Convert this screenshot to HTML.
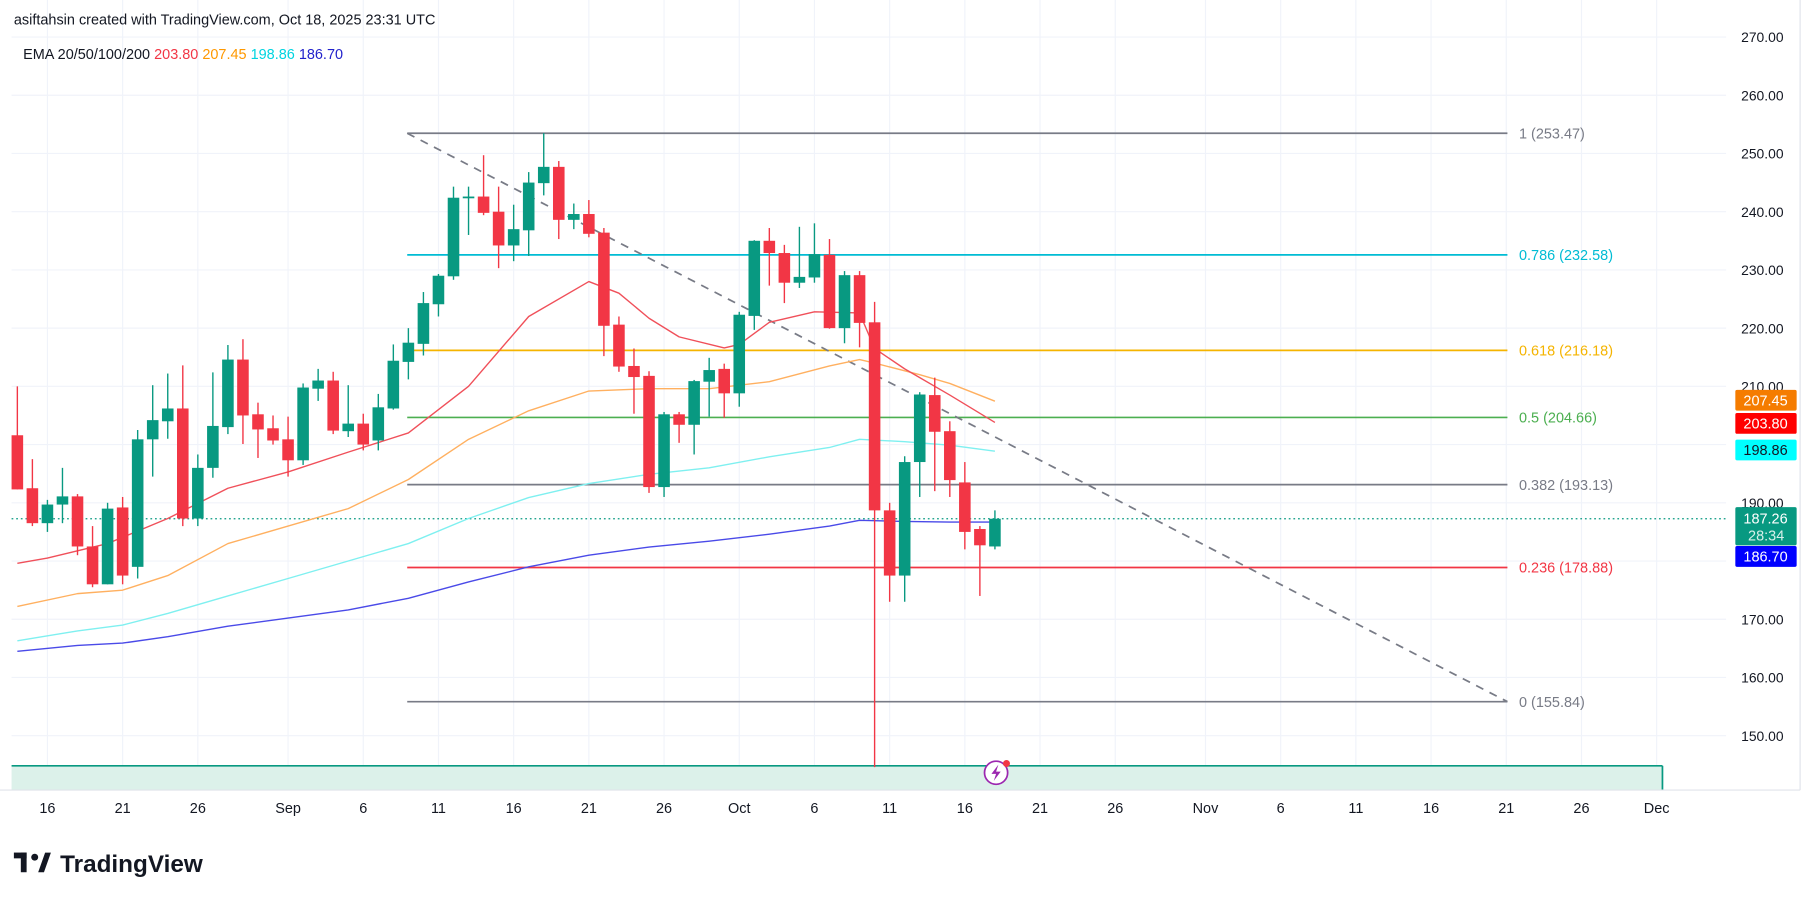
<!DOCTYPE html>
<html><head><meta charset="utf-8">
<style>
html,body{margin:0;padding:0;background:#fff;width:1814px;height:900px;overflow:hidden;}
svg{display:block;font-family:"Liberation Sans",sans-serif;}
</style></head>
<body>
<svg id="chart" width="1814" height="900" viewBox="0 0 1568 778" preserveAspectRatio="none" xmlns="http://www.w3.org/2000/svg">
<rect x="0" y="0" width="1568" height="778" fill="#ffffff"/>
<g id="grid"></g>
<g id="fib"></g>
<g id="emas"></g>
<g id="candles"></g>
<g id="yaxis"></g>
<g id="xaxis"></g>
<text x="12" y="21" font-size="12.5" fill="#131722">asiftahsin created with TradingView.com, Oct 18, 2025 23:31 UTC</text>
<g>
<text x="20" y="51" font-size="12.5" fill="#131722">EMA 20/50/100/200 <tspan fill="#f23645">203.80</tspan> <tspan fill="#ff9800">207.45</tspan> <tspan fill="#00d4e0">198.86</tspan> <tspan fill="#2222cc">186.70</tspan></text>
</g>
<g>
<rect x="12" y="737" width="11" height="5" fill="#131722"/>
<rect x="18" y="737" width="5" height="17" fill="#131722"/>
<circle cx="30" cy="741" r="3" fill="#131722"/>
<polygon points="33,754 39,737 44,737 38,754" fill="#131722"/>
<text x="52" y="754" font-size="21" font-weight="bold" fill="#131722">TradingView</text>
</g>
<g>
<circle cx="861" cy="668" r="10" fill="#fff" stroke="#9c27b0" stroke-width="1.5"/>
<path d="M863,661 L857,669 L861,669 L859,675 L865,667 L861,667 Z" fill="#9c27b0"/>
<circle cx="870" cy="660" r="3" fill="#f23645"/>
</g>
</svg>
<script>
// ---- data ----
const categories = ["Aug14","Aug15","Aug16","Aug17","Aug18","Aug19","Aug20","Aug21","Aug22","Aug23","Aug24","Aug25","Aug26","Aug27","Aug28","Aug29","Aug30","Aug31","Sep1","Sep2","Sep3","Sep4","Sep5","Sep6","Sep7","Sep8","Sep9","Sep10","Sep11","Sep12","Sep13","Sep14","Sep15","Sep16","Sep17","Sep18","Sep19","Sep20","Sep21","Sep22","Sep23","Sep24","Sep25","Sep26","Sep27","Sep28","Sep29","Sep30","Oct1","Oct2","Oct3","Oct4","Oct5","Oct6","Oct7","Oct8","Oct9","Oct10","Oct11","Oct12","Oct13","Oct14","Oct15","Oct16","Oct17","Oct18"];
const opens  = [201.6,192.5,186.5,189.7,191.1,182.5,176,189.2,179,200.9,204,206.2,187.3,196,203,214.6,205.2,202.8,200.9,197.3,209.6,211,202.3,203.6,200.7,206.2,214.2,217.3,224.1,228.9,242.3,242.6,240,234.2,236.8,244.9,247.7,238.6,239.6,236.4,220.6,213.5,211.8,192.7,205.2,203.4,210.8,213,208.8,222.1,235,232.9,227.8,228.7,232.6,220,229.1,221,188.7,177.5,197,208.5,202.3,193.5,185.5,182.5];
const closes = [192.3,186.5,189.7,191.1,182.5,176,189,177.5,200.9,204.2,206.2,187.3,196,203.2,214.6,205,202.6,200.7,197.3,209.8,211,202.4,203.6,200,206.4,214.4,217.5,224.3,229,242.4,242.6,239.8,234.2,237,245,247.7,238.6,239.6,236.2,220.4,213.4,211.6,192.7,205.2,203.4,210.9,212.8,208.8,222.3,235,232.9,227.8,228.8,232.7,220,229.1,220.9,188.7,177.5,197,208.6,202.2,193.9,185,182.7,187.26];
const highs  = [210,197.5,190.5,196,191.5,186,190,191,202.5,210.2,212.2,213.6,198.3,212.4,217.1,218.1,207.2,205,204.8,210.5,213,212.5,210.2,205.3,208.7,217.2,220,226.2,229.3,244.3,244.3,249.7,244.3,241.2,246.8,253.5,248.7,241.4,242,237.2,222,216.5,212.6,205.6,205.6,211.1,214.9,213.9,222.8,235.1,237.2,234.3,237.4,238,235.3,229.8,229.8,224.5,190,198,209,211.5,204,197,186,188.7];
const lows   = [192.3,186,185,186.5,181,175.5,176,176,177,194.5,201,186,186,194.3,201.8,200.1,197.7,200,194.5,196.5,207.5,201.8,201.3,199,199,206,211.2,215.3,222,228.3,236,239.4,230.3,231.5,232.4,242.8,235.3,237,235.6,215.2,212.5,205.3,191.7,191,200.3,198.3,204.8,204.6,206.5,219.7,227.3,224.3,226.9,227.8,219.9,217.4,216.7,144.6,173,173,191,192,191,182,174,182];
const ema20Idx = [0,2,6,10,14,18,22,26,30,34,38,40,42,44,47,48,50,53,56,57,59,62,65];
const ema20Val = [179.6,180.5,183,187.3,192.5,195.3,198.7,202,210,222,228,226,221.7,218.5,216.6,217.2,221,222.8,222.6,216.5,213,208.5,203.8];
const ema50Idx = [0,4,7,10,14,18,22,26,30,34,38,42,46,50,54,56,57,60,62,65];
const ema50Val = [172.2,174.4,175,177.5,183,186,189,194,200.9,205.8,209.2,209.6,209.6,210.8,213.5,214.6,214,212,210.5,207.45];
const ema100Idx = [0,4,7,10,14,18,22,26,30,34,38,42,46,50,54,56,59,62,65];
const ema100Val = [166.3,168,169,171,174,177,180,183,187.3,190.9,193.3,194.9,196,197.9,199.5,200.9,200.5,199.9,198.86];
const ema200Idx = [0,4,7,10,14,18,22,26,30,34,38,42,46,50,54,56,59,62,65];
const ema200Val = [164.5,165.5,165.9,167,168.8,170.2,171.6,173.6,176.4,179,181,182.4,183.4,184.6,186,187,186.8,186.7,186.7];
const fibLevels = ["1","0.786","0.618","0.5","0.382","0.236","0"];
const fibPrices = [253.47,232.58,216.18,204.66,193.13,178.88,155.84];
const priceTicks = [270,260,250,240,230,220,210,200,190,180,170,160,150];
const timeLabels = ["16","21","26","Sep","6","11","16","21","26","Oct","6","11","16","21","26","Nov","6","11","16","21","26","Dec"];
const timeLabelDays = [2,7,12,18,23,28,33,38,43,48,53,58,63,68,73,79,84,89,94,99,104,109];
const lastPrice = 187.26;

// ---- scales ----
const NS = "http://www.w3.org/2000/svg";
function yS(p){ return 32 + (270 - p) * 5.033; }
function xS(i){ return 15 + 13 * i; }
function mk(tag, attrs, parent){ const e = document.createElementNS(NS, tag); for (const k in attrs) e.setAttribute(k, attrs[k]); parent.appendChild(e); return e; }

const grid = document.getElementById('grid');
priceTicks.forEach(p => {
  const l = mk('line', {x1:10, x2:1492, y1:yS(p), y2:yS(p), stroke:'#f0f3fa', 'stroke-width':1}, grid);
  
  
});
timeLabelDays.forEach(d => {
  const l = mk('line', {x1:xS(d), x2:xS(d), y1:0, y2:683, stroke:'#f0f3fa', 'stroke-width':1}, grid);
  
  
});

// bottom zone
const zone = mk('rect', {x:10, y:662, width:1427, height:21, fill:'#dcf1ea'}, grid);


mk('line', {x1:10, x2:1437, y1:662, y2:662, stroke:'#089981', 'stroke-width':1.5}, grid);
mk('line', {x1:1437, x2:1437, y1:662, y2:683, stroke:'#089981', 'stroke-width':1.5}, grid);

// fib
const fib = document.getElementById('fib');
const fibColors = ['#787b86','#00bcd4','#f5b400','#4caf50','#787b86','#f23645','#787b86'];
fibPrices.forEach((p, k) => {
  const l = mk('line', {x1:352, x2:1303, y1:yS(p), y2:yS(p), stroke:fibColors[k], 'stroke-width':1.5}, fib);
  
  
  const t = mk('text', {x:1313, y:yS(p)+4.5, 'font-size':12.5, fill:fibColors[k]}, fib);
  t.textContent = fibLevels[k] + ' (' + p.toFixed(2) + ')';
  
  
});
const tl = mk('line', {x1:352, y1:yS(fibPrices[0]), x2:1303, y2:yS(fibPrices[6]), stroke:'#787b86', 'stroke-width':1.5, 'stroke-dasharray':'7,6'}, fib);



// last price dotted
const lp = mk('line', {x1:10, x2:1492, y1:yS(lastPrice), y2:yS(lastPrice), stroke:'#089981', 'stroke-width':1, 'stroke-dasharray':'1.5,2.5'}, fib);



// emas
const emas = document.getElementById('emas');
function drawEma(idx, vals, color, name){
  const pts = idx.map((i, k) => xS(i) + ',' + yS(vals[k])).join(' ');
  const pl = mk('polyline', {points:pts, fill:'none', stroke:color, 'stroke-width':1.2, 'stroke-linejoin':'round'}, emas);
  
  
}
drawEma(ema200Idx, ema200Val, '#4a4ae8', 'ema-200-line');
drawEma(ema100Idx, ema100Val, '#7ff0f0', 'ema-100-line');
drawEma(ema50Idx, ema50Val, '#ffb060', 'ema-50-line');
drawEma(ema20Idx, ema20Val, '#f0505a', 'ema-20-line');

// candles
const cg = document.getElementById('candles');
categories.forEach((c, i) => {
  const up = closes[i] >= opens[i];
  const col = up ? '#089981' : '#f23645';
  const x = xS(i);
  const w = mk('line', {x1:x, x2:x, y1:yS(highs[i]), y2:yS(lows[i]), stroke:col, 'stroke-width':1.2}, cg);
  
  
  const top = yS(Math.max(opens[i], closes[i]));
  const h = Math.max(1, yS(Math.min(opens[i], closes[i])) - top);
  const b = mk('rect', {x:x-5, y:top, width:10, height:h, fill:col}, cg);
  
  
});

// y axis
const ya = document.getElementById('yaxis');
mk('line', {x1:1556, x2:1556, y1:0, y2:683, stroke:'#e0e3eb', 'stroke-width':1}, ya);
priceTicks.forEach(p => {
  const t = mk('text', {x:1505, y:yS(p)+4.5, 'font-size':12, fill:'#131722'}, ya);
  t.textContent = p.toFixed(2);
  
  
});
const tagP = [207.45, 203.80, 198.86, 186.70];
const tagC = ['#f57c00', '#ff0000', '#00ffff', '#0000ff'];
const tagT = ['#fff', '#fff', '#131722', '#fff'];
const tagY = [346, 366, 389, 481];
tagP.forEach((p, k) => {
  const r = mk('rect', {x:1500, y:tagY[k]-9, width:53, height:18, fill:tagC[k], rx:1.5}, ya);
  
  
  const t = mk('text', {x:1507, y:tagY[k]+4.5, 'font-size':12.5, fill:tagT[k]}, ya);
  t.textContent = p.toFixed(2);
});
const lr = mk('rect', {x:1500, y:yS(lastPrice)-10, width:53, height:33, fill:'#089981', rx:1.5}, ya);


const lt = mk('text', {x:1507, y:yS(lastPrice)+4, 'font-size':12.5, fill:'#fff'}, ya);
lt.textContent = lastPrice.toFixed(2);
const ct = mk('text', {x:1511, y:yS(lastPrice)+19, 'font-size':12.5, fill:'#d8f0ea'}, ya);
ct.textContent = '28:34';



// x axis
const xa = document.getElementById('xaxis');
mk('line', {x1:0, x2:1556, y1:683, y2:683, stroke:'#e0e3eb', 'stroke-width':1}, xa);
timeLabels.forEach((s, k) => {
  const t = mk('text', {x:xS(timeLabelDays[k]), y:703, 'font-size':12.5, fill:'#131722', 'text-anchor':'middle'}, xa);
  t.textContent = s;
  
  
});
</script>
</body></html>
